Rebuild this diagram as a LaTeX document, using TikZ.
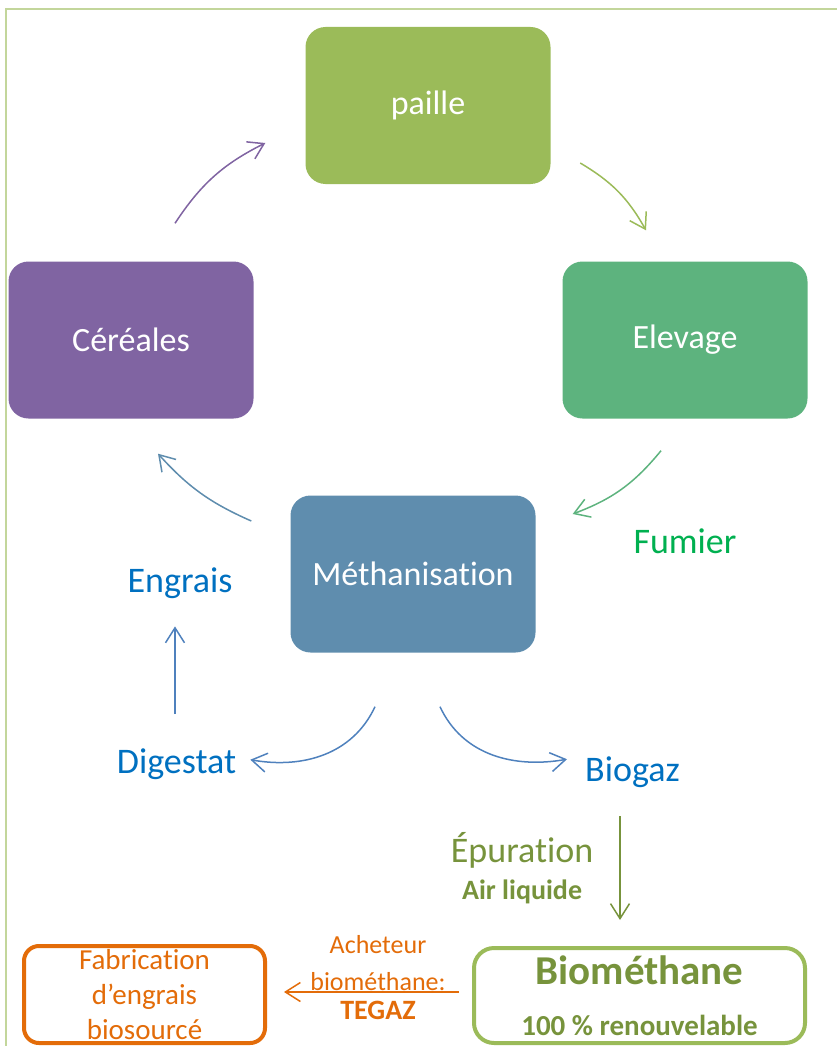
\documentclass[tikz,border=0pt]{standalone}
\usepackage{fontspec}
\setmainfont{Carlito}[Ligatures=NoCommon]
\usepackage{xcolor}
\usetikzlibrary{arrows.meta}
\usetikzlibrary{positioning}

\definecolor{paillec}{HTML}{9BBB59}
\definecolor{cerealc}{HTML}{8064A2}
\definecolor{elevc}{HTML}{5DB37E}
\definecolor{methac}{HTML}{5F8DAE}
\definecolor{bleu}{HTML}{0070C0}
\definecolor{bleuf}{HTML}{4F81BD}
\definecolor{fumierc}{HTML}{00B050}
\definecolor{olive}{HTML}{77933C}
\definecolor{orange}{HTML}{E36C09}
\definecolor{cadre}{HTML}{C3D69B}

\begin{document}
\begin{tikzpicture}[x=1pt,y=1pt,
	>={Straight Barb[length=15pt,width=19pt]},
	bloc/.style={rounded corners=20pt,minimum width=245pt,minimum height=157pt,text=white,font=\fontsize{34}{41}\selectfont},
	lbl/.style={inner sep=0pt,anchor=base,font=\fontsize{36}{43}\selectfont},
	fl/.style={->,line width=1.5pt}]
	 \useasboundingbox (0,0) rectangle (837,-1046);
	 \draw[cadre,line width=2pt] (6,-1046) |- (837,-9);
	 \node[bloc,fill=paillec] (paille) at (428,-105.5) {paille};
	 \node[bloc,fill=cerealc] (cereales) at (131,-340) {Céréales};
	 \node[bloc,fill=elevc] (elevage) at (685,-340) {Elevage};
	 \node[bloc,fill=methac] (metha) at (413,-574) {Méthanisation};
	 \node[lbl,text=fumierc] (fumier) at (685,-553) {Fumier};
	 \node[lbl,text=bleu] (engrais) at (180,-592) {Engrais};
	 \node[lbl,text=bleu] (digestat) at (176.5,-773) {Digestat};
	 \node[lbl,text=bleu] (biogaz) at (632.5,-781) {Biogaz};
	 \node[draw=orange,line width=4pt,rounded corners=15pt,minimum width=241pt,minimum height=97pt,
		text=orange,align=center,font=\fontsize{29}{35}\selectfont] (fabrication) at (144.5,-994.5)
		{Fabrication\\d’engrais\\biosourcé};
	 \node[draw=paillec,line width=4pt,rounded corners=20pt,minimum width=331pt,minimum height=95pt,
		text=olive,align=center,font=\fontsize{41}{51}\selectfont\bfseries] (biomethane) at (639.5,-995.5)
		{Biométhane\\{\fontsize{29}{51}\selectfont 100 \% renouvelable}};
	 \draw[fl,cerealc] ([xshift=44pt,yshift=38pt]cereales.north) to[bend left=15] ([xshift=-40pt,yshift=-37.5pt]paille.west);
	 \draw[fl,paillec] ([xshift=29.5pt,yshift=-57.5pt]paille.east) to[bend left=15] ([xshift=-39pt,yshift=31pt]elevage.north);
	 \draw[fl,elevc] ([xshift=-24pt,yshift=-32pt]elevage.south) to[bend left=15] ([xshift=37pt,yshift=60pt]metha.east);
	 \draw[fl,methac] ([xshift=-39pt,yshift=53pt]metha.west) to[bend left=12] ([xshift=27pt,yshift=-35pt]cereales.south);
	 \draw[fl,bleuf] ([xshift=-38pt,yshift=-54pt]metha.south) to[out=-115,in=-10] ([xshift=14pt,yshift=4pt]digestat.east);
	 \draw[fl,bleuf] ([xshift=27pt,yshift=-54pt]metha.south) to[out=-65,in=190] ([xshift=-18pt,yshift=12.5pt]biogaz.west);
	 \draw[fl,bleuf] ([xshift=-1.5pt,yshift=34pt]digestat.north) -- ([xshift=-5pt,yshift=-28pt]engrais.south);
	 \draw[fl,olive] ([xshift=-12.5pt,yshift=-29pt]biogaz.south) -- node[left,xshift=-26pt,inner sep=0pt,align=center,text=olive,font=\fontsize{36}{37}\selectfont]
		{Épuration\\{\fontsize{28}{37}\selectfont\bfseries Air liquide}} ([xshift=-19.5pt,yshift=26pt]biomethane.north);
	 \draw[fl,orange] ([xshift=-13pt,yshift=3.5pt]biomethane.west) -- node[above,xshift=6.5pt,yshift=1pt,inner sep=0pt,align=center,font=\fontsize{26}{37}\selectfont]
		{Acheteur\\biométhane:} node[below,xshift=6.5pt,yshift=-8pt,inner sep=0pt,font=\fontsize{28}{34}\selectfont\bfseries]
		{TEGAZ} ([xshift=17pt,yshift=2.5pt]fabrication.east);
\end{tikzpicture}
\end{document}
